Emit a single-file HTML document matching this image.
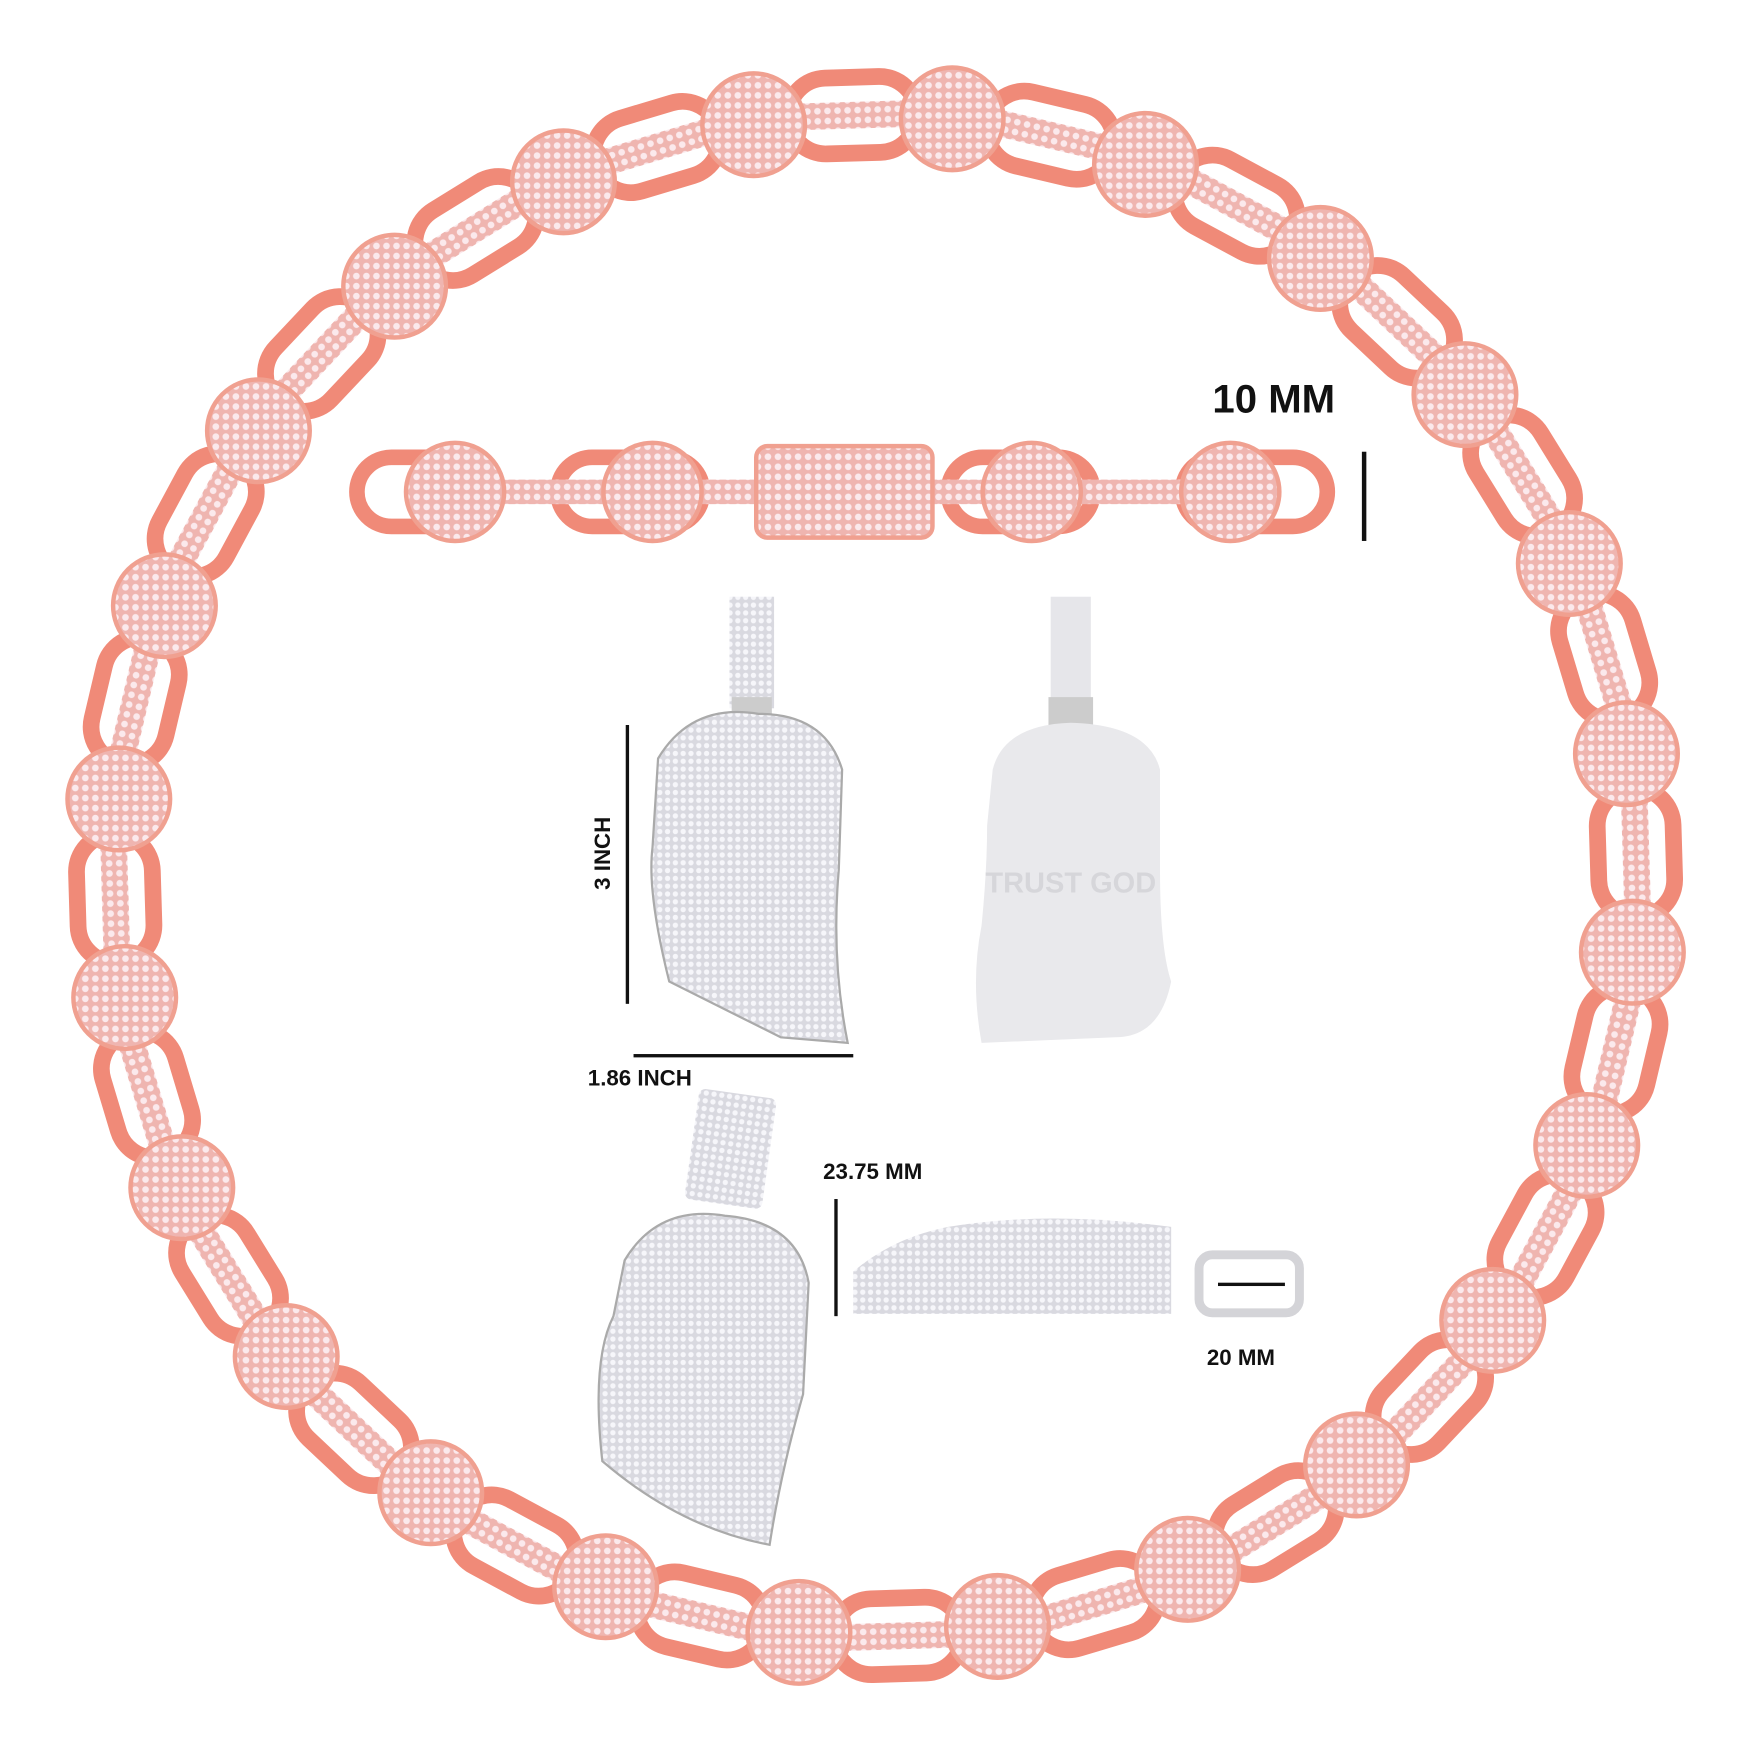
<!DOCTYPE html>
<html><head><meta charset="utf-8"><style>
html,body{margin:0;padding:0;background:#fff;width:1740px;height:1740px;overflow:hidden}
svg{display:block}
text{font-family:"Liberation Sans",sans-serif;font-weight:bold;fill:#111}
</style></head><body>
<svg id="s" width="1740" height="1740" viewBox="0 0 1560 1560" xmlns="http://www.w3.org/2000/svg">
<defs>
<pattern id="dots" width="9" height="9" patternUnits="userSpaceOnUse">
<rect width="9" height="9" fill="#efb5b0"/><circle cx="4.5" cy="4.5" r="3" fill="#fbe9ec"/></pattern>
<pattern id="wd" width="7" height="7" patternUnits="userSpaceOnUse">
<rect width="7" height="7" fill="#d9d9e0"/><circle cx="3.5" cy="3.5" r="2.4" fill="#f6f6fa"/></pattern>
</defs>
<g id="ring"></g>
<g>
<rect x="320" y="410" width="120" height="62" rx="31" fill="none" stroke="#f08a78" stroke-width="14"/>
<rect x="500" y="410" width="130" height="62" rx="31" fill="none" stroke="#f08a78" stroke-width="14"/>
<rect x="850" y="410" width="130" height="62" rx="31" fill="none" stroke="#f08a78" stroke-width="14"/>
<rect x="1060" y="410" width="130" height="62" rx="31" fill="none" stroke="#f08a78" stroke-width="14"/>
<rect x="450" y="430" width="230" height="22" fill="url(#dots)"/>
<rect x="830" y="430" width="230" height="22" fill="url(#dots)"/>
<circle cx="408" cy="441" r="44" fill="url(#dots)" stroke="#f0a090" stroke-width="4"/>
<circle cx="585" cy="441" r="44" fill="url(#dots)" stroke="#f0a090" stroke-width="4"/>
<circle cx="925" cy="441" r="44" fill="url(#dots)" stroke="#f0a090" stroke-width="4"/>
<circle cx="1103" cy="441" r="44" fill="url(#dots)" stroke="#f0a090" stroke-width="4"/>
<rect x="678" y="400" width="158" height="82" rx="10" fill="url(#dots)" stroke="#f0a090" stroke-width="4"/>
</g>
<text x="1087" y="370" font-size="36">10 MM</text>
<rect x="1221" y="405" width="4" height="80" fill="#111"/>
<rect x="654" y="535" width="40" height="100" fill="url(#wd)"/>
<rect x="656" y="625" width="36" height="25" fill="#ccc"/>
<path d="M590 680 Q620 630 680 640 Q740 640 755 690 L752 780 Q745 860 760 935 L700 930 Q640 900 600 880 Q580 800 585 760 Z" fill="url(#wd)" stroke="#aaa" stroke-width="2"/>
<rect x="942" y="535" width="36" height="100" fill="#e6e6ea"/>
<rect x="940" y="625" width="40" height="25" fill="#ccc"/>
<path d="M890 690 Q900 650 960 648 Q1030 650 1040 690 L1040 780 Q1040 850 1050 880 Q1040 930 1000 930 L880 935 Q870 880 880 830 Q885 780 885 740 Z" fill="#e9e9ec"/>
<text x="960" y="800" font-size="26" text-anchor="middle" style="fill:#d6d6da">TRUST GOD</text>
<rect x="561" y="650" width="3" height="250" fill="#111"/>
<rect x="568" y="945" width="197" height="3" fill="#111"/>
<text x="547" y="765" font-size="20" text-anchor="middle" transform="rotate(-90 547 765)">3 INCH</text>
<text x="527" y="973" font-size="20">1.86 INCH</text>
<rect x="620" y="980" width="70" height="100" rx="6" fill="url(#wd)" transform="rotate(8 655 1030)"/>
<path d="M560 1130 Q590 1080 650 1090 Q715 1095 725 1150 L720 1250 Q700 1320 690 1385 Q610 1370 540 1310 Q530 1220 550 1180 Z" fill="url(#wd)" stroke="#aaa" stroke-width="2"/>
<text x="738" y="1057" font-size="20">23.75 MM</text>
<rect x="748" y="1075" width="3" height="105" fill="#111"/>
<path d="M765 1140 Q800 1110 850 1100 Q940 1085 1050 1100 L1050 1178 L765 1178 Z" fill="url(#wd)"/>
<rect x="1075" y="1125" width="90" height="52" rx="12" fill="#fff" stroke="#d4d4d8" stroke-width="8"/>
<rect x="1092" y="1150" width="60" height="3" fill="#111"/>
<text x="1082" y="1224" font-size="20">20 MM</text>
</svg>
<script>
var g=document.getElementById('ring'),h='';
var cx=785,cy=785,R=682,N=24,st=-Math.PI/2+Math.PI/N-0.03;
for(var i=0;i<N;i++){
 var a=st+(i+0.5)/N*2*Math.PI, x=cx+R*Math.cos(a), y=cy+R*Math.sin(a), d=a*180/Math.PI;
 h+='<g transform="translate('+x.toFixed(1)+' '+y.toFixed(1)+') rotate('+d.toFixed(1)+')"><rect x="-34" y="-58" width="68" height="116" rx="34" fill="none" stroke="#f08a78" stroke-width="15"/><rect x="-12" y="-80" width="24" height="160" fill="url(#dots)"/></g>';
}
for(var i=0;i<N;i++){
 var a=st+i/N*2*Math.PI, x=cx+R*Math.cos(a), y=cy+R*Math.sin(a);
 h+='<circle cx="'+x.toFixed(1)+'" cy="'+y.toFixed(1)+'" r="46" fill="url(#dots)" stroke="#f0a090" stroke-width="4"/>';
}
g.innerHTML=h;
</script>
</body></html>
